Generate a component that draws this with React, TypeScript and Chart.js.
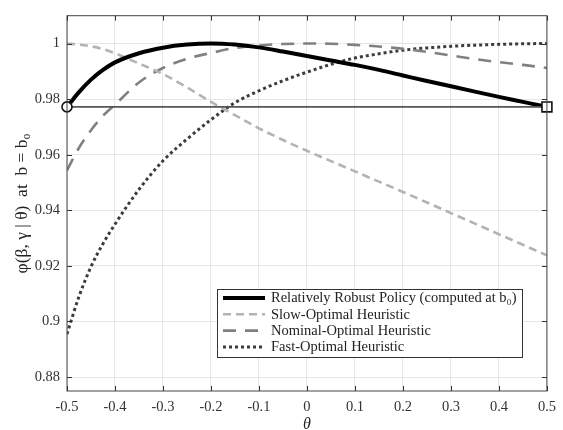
import { useEffect, useRef } from 'react';
import { Chart, registerables } from 'chart.js';

Chart.register(...registerables);

const thetas = [-0.5, -0.475, -0.45, -0.425, -0.4, -0.35, -0.3, -0.25, -0.2, -0.15, -0.1, -0.05, 0, 0.05, 0.1, 0.15, 0.2, 0.25, 0.3, 0.35, 0.4, 0.45, 0.5];
const robust = [0.9772, 0.9825, 0.9870, 0.9905, 0.9932, 0.9965, 0.9985, 0.9996, 1.0, 0.9996, 0.9986, 0.9971, 0.9955, 0.9939, 0.9923, 0.9905, 0.9885, 0.9865, 0.9846, 0.9827, 0.9808, 0.9790, 0.9772];
const slowOpt = [1.0, 0.9996, 0.9990, 0.9980, 0.9965, 0.9928, 0.9890, 0.9842, 0.9790, 0.9742, 0.9695, 0.9653, 0.9614, 0.9577, 0.9540, 0.9503, 0.9466, 0.9428, 0.9390, 0.9352, 0.9314, 0.9276, 0.9238];
const nominalOpt = [0.9544, 0.9625, 0.9688, 0.9740, 0.9780, 0.9860, 0.9912, 0.9945, 0.9966, 0.9984, 0.9993, 0.9998, 1.0, 0.9999, 0.9995, 0.9989, 0.9981, 0.9970, 0.9957, 0.9944, 0.9933, 0.9923, 0.9912];
const fastOpt = [0.8955, 0.9090, 0.9197, 0.9280, 0.9350, 0.9475, 0.9578, 0.9656, 0.9726, 0.9787, 0.9830, 0.9866, 0.9897, 0.9925, 0.9948, 0.9963, 0.9976, 0.9984, 0.9990, 0.9994, 0.9997, 0.9999, 1.0];
const threshold = 0.9772;
const thresholdX = [-0.5, 0.5];
const xTicks = [-0.5, -0.4, -0.3, -0.2, -0.1, 0, 0.1, 0.2, 0.3, 0.4, 0.5];
const yTicks = [0.88, 0.9, 0.92, 0.94, 0.96, 0.98, 1];
const seriesLabels = [
  'Relatively Robust Policy (computed at b₀)',
  'Slow-Optimal Heuristic',
  'Nominal-Optimal Heuristic',
  'Fast-Optimal Heuristic',
];

const FONT = "'Liberation Serif', 'DejaVu Serif', serif";

const pts = (ys: number[]) => thetas.map((x, i) => ({ x, y: ys[i] }));

const frameLegendPlugin = {
  id: 'frameLegend',
  afterDatasetsDraw(chart: any) {
    const { ctx, chartArea: a, scales } = chart;
    ctx.save();
    ctx.strokeStyle = '#444';
    ctx.lineWidth = 1;
    ctx.strokeRect(a.left, a.top, a.right - a.left, a.bottom - a.top);
    ctx.strokeStyle = '#333';
    ctx.beginPath();
    for (const v of xTicks) {
      const x = Math.round(scales.x.getPixelForValue(v)) + 0.5;
      ctx.moveTo(x, a.bottom); ctx.lineTo(x, a.bottom - 5);
      ctx.moveTo(x, a.top); ctx.lineTo(x, a.top + 5);
    }
    for (const v of yTicks) {
      const y = Math.round(scales.y.getPixelForValue(v)) + 0.5;
      ctx.moveTo(a.left, y); ctx.lineTo(a.left + 5, y);
      ctx.moveTo(a.right, y); ctx.lineTo(a.right - 5, y);
    }
    ctx.stroke();
    ctx.restore();
  },
  afterDraw(chart: any) {
    const { ctx } = chart;
    ctx.save();
    const bx = 217, by = 289, bw = 305, bh = 68;
    ctx.fillStyle = '#fff';
    ctx.fillRect(bx, by, bw, bh);
    ctx.strokeStyle = '#333';
    ctx.lineWidth = 1;
    ctx.strokeRect(bx + 0.5, by + 0.5, bw, bh);
    const ds = chart.data.datasets.filter((d: any) => d.inLegend);
    ds.forEach((d: any, i: number) => {
      const y = by + 9 + i * 16.3;
      ctx.beginPath();
      ctx.strokeStyle = d.borderColor;
      ctx.lineWidth = d.borderWidth;
      ctx.setLineDash(d.borderDash || []);
      ctx.moveTo(bx + 6, y);
      ctx.lineTo(bx + 48, y);
      ctx.stroke();
      ctx.setLineDash([]);
      ctx.fillStyle = '#222';
      ctx.font = `14.5px ${FONT}`;
      ctx.textBaseline = 'middle';
      ctx.textAlign = 'left';
      ctx.fillText(d.label, bx + 54, y + 0.5);
    });
    ctx.restore();
  },
};

export default function App() {
  const ref = useRef<HTMLCanvasElement>(null);
  useEffect(() => {
    document.body.style.margin = '0';
    const chart = new Chart(ref.current!, {
      type: 'line',
      data: {
        datasets: [
          {
            label: 'endpoints',
            data: thresholdX.map((x) => ({ x, y: threshold })),
            showLine: false,
            clip: false,
            pointStyle: ['circle', 'rect'] as any,
            pointRadius: [5, 7] as any,
            pointBorderWidth: 1.6,
            pointBorderColor: '#111',
            pointBackgroundColor: '#fff',
          } as any,
          {
            label: 'threshold',
            data: thresholdX.map((x) => ({ x, y: threshold })),
            borderColor: '#555',
            borderWidth: 1.6,
            pointRadius: 0,
          },
          {
            label: seriesLabels[0],
            inLegend: true,
            data: pts(robust),
            borderColor: '#000',
            borderWidth: 4,
            pointRadius: 0,
            cubicInterpolationMode: 'monotone',
          } as any,
          {
            label: seriesLabels[1],
            inLegend: true,
            data: pts(slowOpt),
            borderColor: '#b3b3b3',
            borderWidth: 2.6,
            borderDash: [8, 5],
            pointRadius: 0,
            cubicInterpolationMode: 'monotone',
          } as any,
          {
            label: seriesLabels[2],
            inLegend: true,
            data: pts(nominalOpt),
            borderColor: '#808080',
            borderWidth: 2.6,
            borderDash: [13, 9],
            pointRadius: 0,
            cubicInterpolationMode: 'monotone',
          } as any,
          {
            label: seriesLabels[3],
            inLegend: true,
            data: pts(fastOpt),
            borderColor: '#3c3c3c',
            borderWidth: 3,
            borderDash: [3, 3],
            pointRadius: 0,
            cubicInterpolationMode: 'monotone',
          } as any,
        ],
      },
      options: {
        animation: false,
        responsive: false,
        layout: { padding: { top: 9, right: 14, left: 0, bottom: 0 } },
        plugins: { legend: { display: false }, tooltip: { enabled: false } },
        scales: {
          x: {
            type: 'linear',
            min: -0.5,
            max: 0.5,
            afterBuildTicks: (s: any) => { s.ticks = xTicks.map((v) => ({ value: v })); },
            afterFit: (s: any) => { s.height = 39; },
            ticks: {
              color: '#333',
              font: { family: FONT, size: 14.5 },
              padding: 7,
              maxRotation: 0,
              callback: (v: any) => (Number(v) === 0 ? '0' : Number(v).toFixed(1)),
            },
            grid: { color: '#e6e6e6', drawTicks: false },
            border: { display: false },
            title: {
              display: true,
              text: 'θ',
              color: '#222',
              font: { family: FONT, size: 16, style: 'italic', lineHeight: 0.6 },
              padding: { top: 0, bottom: 0 },
            },
          },
          y: {
            type: 'linear',
            min: 0.875,
            max: 1.01,
            afterBuildTicks: (s: any) => { s.ticks = yTicks.map((v) => ({ value: v })); },
            afterFit: (s: any) => { s.width = 67; },
            ticks: {
              color: '#333',
              font: { family: FONT, size: 14.5 },
              padding: 7,
              callback: (v: any) => String(Number(v)),
            },
            grid: { color: '#e6e6e6', drawTicks: false },
            border: { display: false },
            title: {
              display: true,
              text: 'φ(β, γ | θ)  at  b = b₀',
              color: '#222',
              font: { family: FONT, size: 17.5, lineHeight: 1 },
              padding: { top: 14, bottom: 0 },
            },
          },
        },
      },
      plugins: [frameLegendPlugin],
    } as any);
    return () => chart.destroy();
  }, []);
  return <canvas ref={ref} width={563} height={430} style={{ display: 'block' }} />;
}
